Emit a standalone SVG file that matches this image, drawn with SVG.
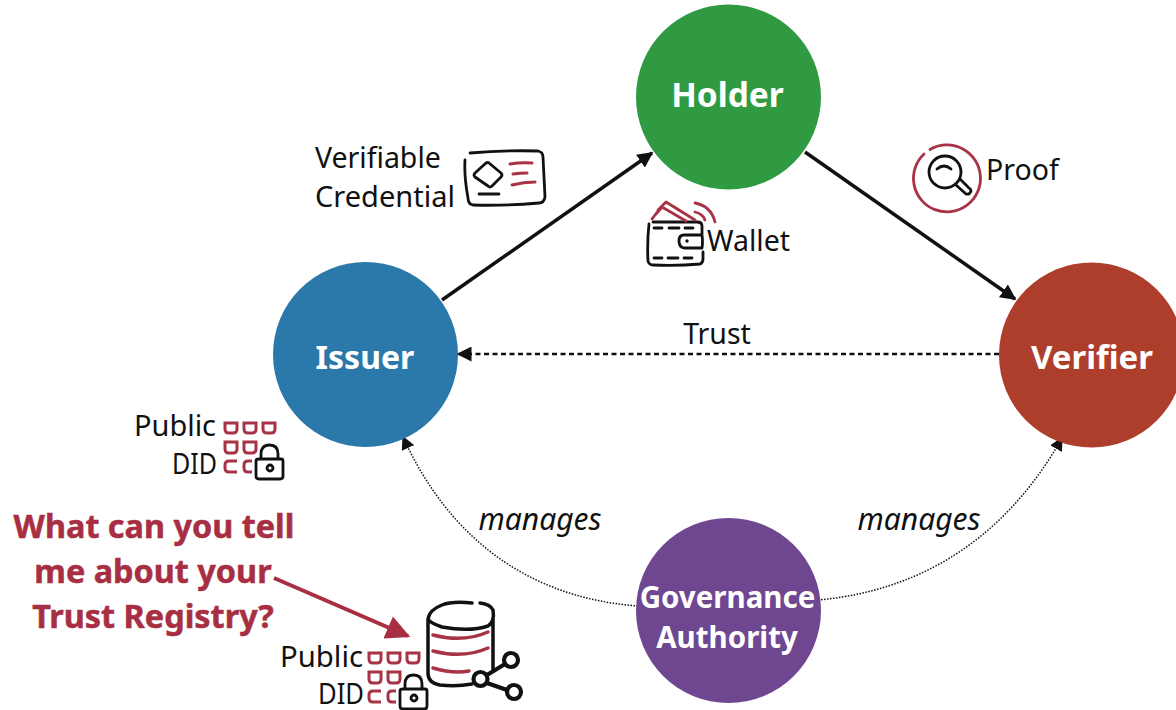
<svg xmlns="http://www.w3.org/2000/svg" width="1176" height="710" viewBox="0 0 1176 710">
<style>
.t{font-family:"Noto Sans","Open Sans",sans-serif;font-size:28.500px;fill:#111}
.w{font-size:29px}
.i{font-size:30px;font-style:italic;text-anchor:middle}
.n{font-family:"Noto Sans","Open Sans",sans-serif;font-size:33px;font-weight:700;fill:#fff;text-anchor:middle}
.q{font-family:"Noto Sans","Open Sans",sans-serif;font-size:32.400px;font-weight:700;fill:#a82f43;stroke:#a82f43;stroke-width:.5px;text-anchor:middle}
.k{fill:none;stroke:#111;stroke-width:2.800;stroke-linecap:round;stroke-linejoin:round}
.r{fill:none;stroke:#a93346;stroke-width:2.800;stroke-linecap:round;stroke-linejoin:round}
.g{fill:none;stroke:#a93346;stroke-width:3}
</style>
<defs>
<marker id="a" viewBox="0 0 10 10" refX="9" refY="5" markerWidth="4.500" markerHeight="4.500" markerUnits="strokeWidth" orient="auto"><path d="M0 0L10 5L0 10Z" fill="#111"/></marker>
<marker id="b" viewBox="0 0 10 10" refX="9" refY="5" markerWidth="6" markerHeight="6" markerUnits="strokeWidth" orient="auto"><path d="M0 0L10 5L0 10Z" fill="#111"/></marker>
<marker id="c" viewBox="0 0 10 10" refX="9" refY="5" markerWidth="9" markerHeight="9" markerUnits="strokeWidth" orient="auto"><path d="M0 0L10 5L0 10Z" fill="#111"/></marker>
<marker id="d" viewBox="0 0 10 10" refX="9" refY="5" markerWidth="7" markerHeight="6" markerUnits="strokeWidth" orient="auto"><path d="M0 0L10 5L0 10Z" fill="#a82f43"/></marker>
<g id="didgrid">
<path class="g" d="M3 3h12v6q0 4-4 4h-4q-4 0-4-4zM22 3h12v6q0 4-4 4h-4q-4 0-4-4zM41 3h12v6q0 4-4 4h-4q-4 0-4-4z"/>
<path class="g" d="M3 22h12v7q0 4-4 4h-4q-4 0-4-4zM22 22h12v7q0 4-4 4h-4q-4 0-4-4z"/>
<path class="g" d="M15 41h-8q-4 0-4 4v3q0 4 4 4h8M30 41h-4q-4 0-4 4v3q0 4 4 4h4"/>
<path class="k" d="M37 39h22q2 0 2 2v15q0 3-3 3h-21q-3 0-3-3v-15q0-2 3-2zM39 39v-5q0-9 8.500-9t8.500 9v5"/>
<circle class="k" cx="48" cy="48" r="3"/>
</g>
</defs>
<g id="connectors">
<path d="M442 300L652 153" stroke="#111" stroke-width="3.500" fill="none" marker-end="url(#a)"/>
<path d="M805 152L1015 299" stroke="#111" stroke-width="3.500" fill="none" marker-end="url(#a)"/>
<path d="M999 354H458" stroke="#111" stroke-width="2.500" stroke-dasharray="5 3.500" fill="none" marker-end="url(#b)"/>
<path d="M638 606C530 598 450 540 403 437" stroke="#111" stroke-width="1.500" stroke-dasharray="1.500 1.500" fill="none" marker-end="url(#c)"/>
<path d="M818 600C930 590 1010 530 1062 438" stroke="#111" stroke-width="1.500" stroke-dasharray="1.500 1.500" fill="none" marker-end="url(#c)"/>
<path d="M274 578L408 636" stroke="#a82f43" stroke-width="4" fill="none" marker-end="url(#d)"/>
</g>
<g id="holder"><circle cx="728.500" cy="97" r="92.500" fill="#2f9a41"/><text class="n" x="727.500" y="107" style="font-size:33.500px">Holder</text></g>
<g id="issuer"><circle cx="365.500" cy="354.500" r="92.500" fill="#2b78ab"/><text class="n" x="365" y="369" style="font-size:32px">Issuer</text></g>
<g id="verifier"><circle cx="1091.500" cy="355" r="92.500" fill="#ae3e2c"/><text class="n" x="1092" y="369">Verifier</text></g>
<g id="governance"><circle cx="728.500" cy="610.500" r="92.500" fill="#6f4791"/><text class="n" x="727.500" y="608" style="font-size:29.500px">Governance</text><text class="n" x="727" y="648" style="font-size:29.500px">Authority</text></g>
<g id="credential">
<text class="t" x="315" y="168">Verifiable</text><text class="t w" x="315" y="207">Credential</text>
<path class="k" d="M470 153q35-3 68-2q5 1 5 6l2 40q-1 6-6 6q-35 3-66 2q-5-1-5-7q-4-22-3-38"/>
<path class="k" d="M489 163l12 10q2 2 0 4l-9 9q-2 2-4 0l-13-9q-2-2 0-4l11-10q2-1 3 0zM479 194h20"/>
<path class="r" style="stroke-width:3" d="M510 164q12-2 22-1M513 174q8-1 14-1M512 185q12-3 23-3"/>
</g>
<g id="proof">
<text class="t" x="986" y="180">Proof</text>
<path class="r" d="M924 154A33.500 33.500 0 1 0 930 149.500"/>
<circle class="k" cx="945" cy="172" r="16"/><path class="k" d="M937 169q7-6 14 0M956 185l10 9q4 1 5-3q0-2-2-3l-9-9"/>
</g>
<g id="wallet">
<text class="t" x="707" y="251">Wallet</text>
<path class="k" d="M653 222h44q5 0 5 4v8M649 224q-2 18-1 37q1 4 5 4q25 1 47-1q3-1 3-5v-7M702 235h-18q-5 0-5 6t5 7h18q1-6 0-13"/>
<circle cx="687" cy="241" r="1.700" fill="#111"/>
<path class="k" d="M654 228h8M669 228h10M685 228h8M654 258h8M668 258h10M684 258h8"/>
<path class="r" d="M652 219l9-12M658 210l8-8 29 18M656 214l6-7 24 14M695 203q16 3 20 19M695 212q8 2 10 8"/>
</g>
<g id="issuer-did">
<text class="t w" x="216" y="436" text-anchor="end" textLength="82" lengthAdjust="spacingAndGlyphs">Public</text><text class="t" x="217" y="474" text-anchor="end" textLength="45" lengthAdjust="spacingAndGlyphs">DID</text>
<use href="#didgrid" x="222" y="420"/>
</g>
<g id="registry-did">
<text class="t w" x="363" y="667" text-anchor="end" textLength="83" lengthAdjust="spacingAndGlyphs">Public</text><text class="t" x="364" y="704" text-anchor="end" textLength="46" lengthAdjust="spacingAndGlyphs">DID</text>
<use href="#didgrid" x="366" y="650"/>
</g>
<g id="registry">
<path class="k" style="stroke-width:3.500" d="M472 603q-20-2-30 2q-13 5-14 14q2 4 14 8q28 5 46-1q7-4 5-16q-3-6-13-7M428 620v53q0 10 12 12q16 2 32-1M493 618v52"/>
<path class="r" style="stroke-width:3.500" d="M433 635q30 8 55-3M433 651q30 8 55-3M433 668q20 6 36 3"/>
<circle class="k" style="stroke-width:4.200" cx="480.500" cy="679" r="7"/><circle class="k" style="stroke-width:4.200" cx="511" cy="660" r="7"/><circle class="k" style="stroke-width:4.200" cx="514" cy="692" r="7"/>
<path class="k" style="stroke-width:4.200" d="M487 675l18-11M487 683l20 7"/>
</g>
<g id="labels">
<text class="t" x="717" y="344" text-anchor="middle">Trust</text>
<text class="t i" x="540" y="529.500">manages</text>
<text class="t i" x="919" y="529.500">manages</text>
<text class="q" x="154" y="538">What can you tell</text>
<text class="q" x="153" y="583">me about your</text>
<text class="q" x="153" y="628">Trust Registry?</text>
</g>
</svg>
